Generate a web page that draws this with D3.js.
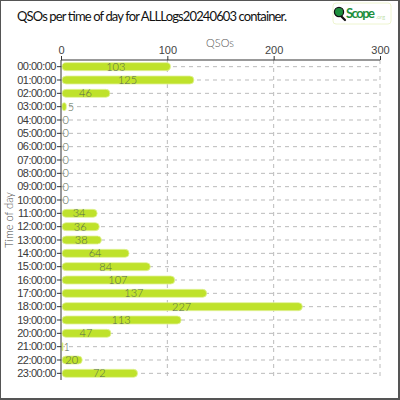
<!DOCTYPE html>
<html>
<head>
<meta charset="utf-8">
<script src="https://cdn.jsdelivr.net/npm/d3@7"></script>
<style>
  body { margin: 0; background: #fff; }
  svg { display: block; font-family: Lato, "DejaVu Sans", sans-serif; font-weight: 300; }
</style>
</head>
<body>
<div id="chart"></div>
<script>
// categories and values
const hours = ['00:00:00', '01:00:00', '02:00:00', '03:00:00', '04:00:00', '05:00:00',
  '06:00:00', '07:00:00', '08:00:00', '09:00:00', '10:00:00', '11:00:00',
  '12:00:00', '13:00:00', '14:00:00', '15:00:00', '16:00:00', '17:00:00',
  '18:00:00', '19:00:00', '20:00:00', '21:00:00', '22:00:00', '23:00:00']
const qsos = [103, 125, 46, 5, 0, 0, 0, 0, 0, 0, 0, 34, 36, 38, 64, 84, 107, 137, 227, 113, 47, 1, 20, 72]
const xTicks = [0, 100, 200, 300]

const width = 400
const height = 400
const margin = { top: 60, right: 20, bottom: 20, left: 61 }

const rows = hours.map((h, i) => ({ hour: h, value: qsos[i] }))

const svg = d3.select('#chart').append('svg')
  .attr('width', width)
  .attr('height', height)

// frame
svg.append('rect')
  .attr('x', 0).attr('y', 0)
  .attr('width', 399).attr('height', 399)
  .attr('fill', '#fff')
  .attr('stroke', '#555')
  .attr('stroke-width', 2)

// title
svg.append('text')
  .attr('x', 17).attr('y', 21)
  .attr('font-size', 13)
  .attr('font-weight', 400)
  .attr('fill', '#111')
  .attr('textLength', 270)
  .text('QSOs per time of day for ALLLogs20240603 container.')

// logo
const logo = svg.append('g').attr('transform', 'translate(333,3)')
logo.append('rect')
  .attr('width', 58).attr('height', 21).attr('rx', 3)
  .attr('fill', '#fff').attr('stroke', '#eef5d0')
logo.append('line')
  .attr('x1', 7).attr('y1', 12).attr('x2', 12).attr('y2', 17)
  .attr('stroke', '#111').attr('stroke-width', 2.2).attr('stroke-linecap', 'round')
logo.append('circle')
  .attr('cx', 6).attr('cy', 9).attr('r', 4.6)
  .attr('fill', '#1c8f3c').attr('stroke', '#111').attr('stroke-width', 1.2)
logo.append('text')
  .attr('x', 13).attr('y', 15)
  .attr('font-size', 13).attr('font-weight', 'bold')
  .attr('fill', '#1c8f3c')
  .attr('textLength', 29)
  .text('Scope')
logo.append('text')
  .attr('x', 43).attr('y', 16)
  .attr('font-size', 5.5)
  .attr('fill', '#8cc860')
  .text('.org')

// scales
const x = d3.scaleLinear()
  .domain([0, 300])
  .range([margin.left, 380])

const y = d3.scaleBand()
  .domain(hours)
  .range([margin.top, 380])

const yc = h => y(h) + y.bandwidth() / 2

// grid
svg.append('g')
  .selectAll('line')
  .data(xTicks.slice(1))
  .join('line')
  .attr('x1', d => x(d)).attr('x2', d => x(d))
  .attr('y1', margin.top).attr('y2', 380)
  .attr('stroke', '#bbb')
  .attr('stroke-dasharray', '4,4')

svg.append('g')
  .selectAll('line')
  .data(rows)
  .join('line')
  .attr('x1', x(0)).attr('x2', x(300))
  .attr('y1', d => yc(d.hour))
  .attr('y2', d => yc(d.hour))
  .attr('stroke', '#bbb')
  .attr('stroke-dasharray', '4,4')

// bars
const barH = 8
svg.append('g')
  .selectAll('rect')
  .data(rows.filter(d => d.value > 0))
  .join('rect')
  .attr('x', x(0) + 1)
  .attr('y', d => yc(d.hour) - barH / 2)
  .attr('width', d => Math.max(x(d.value) - x(0) - 1, 1))
  .attr('height', barH)
  .attr('rx', d => Math.min(4, (x(d.value) - x(0)) / 2))
  .attr('fill', '#bfe22b')
  .attr('stroke', '#e2f29a')
  .attr('stroke-width', 0.8)

// value labels
const wide = d => x(d.value) - x(0) > 18
svg.append('g')
  .selectAll('text')
  .data(rows)
  .join('text')
  .attr('font-size', 11)
  .attr('fill', '#55694f')
  .attr('dy', '0.35em')
  .attr('y', d => yc(d.hour))
  .attr('x', d => (wide(d) ? (x(0) + x(d.value)) / 2 : x(d.value) + 1.5))
  .attr('text-anchor', d => (wide(d) ? 'middle' : 'start'))
  .text(d => d.value)

// axes
const xAxis = svg.append('g')
  .attr('transform', `translate(0,${margin.top})`)
  .call(d3.axisTop(x).tickValues(xTicks).tickSize(4).tickPadding(2))
xAxis.select('.domain').attr('stroke', '#333').attr('d', `M${x(0)},0H${x(300)}`)
xAxis.selectAll('.tick line').attr('stroke', '#333')
xAxis.selectAll('text').attr('font-size', 11).attr('fill', '#444').attr('font-family', null)

const yAxis = svg.append('g')
  .attr('transform', `translate(${margin.left},0)`)
  .call(d3.axisLeft(y).tickSize(4).tickPadding(1))
yAxis.select('.domain').attr('stroke', '#333').attr('d', `M0,${margin.top}V380`)
yAxis.selectAll('.tick line').attr('stroke', '#333')
yAxis.selectAll('text')
  .attr('font-size', 11)
  .attr('fill', '#3a3a3a')
  .attr('font-family', null)
  .attr('letter-spacing', -0.5)

// axis titles
svg.append('text')
  .attr('x', 220).attr('y', 47)
  .attr('text-anchor', 'middle')
  .attr('font-size', 11)
  .attr('fill', '#555')
  .text('QSOs')

svg.append('text')
  .attr('transform', 'translate(13,220) rotate(-90)')
  .attr('text-anchor', 'middle')
  .attr('font-size', 11)
  .attr('fill', '#444')
  .text('Time of day')
</script>
</body>
</html>
